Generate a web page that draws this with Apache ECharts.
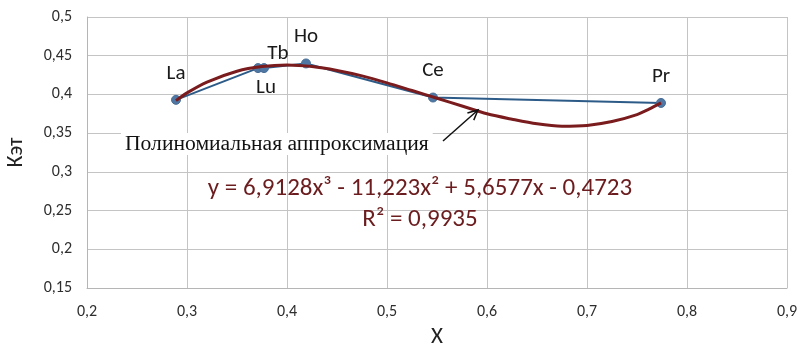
<!DOCTYPE html>
<html><head><meta charset="utf-8">
<script src="https://cdn.jsdelivr.net/npm/echarts@6/dist/echarts.min.js"></script>
<style>html,body{margin:0;padding:0;background:#fff}#c{width:798px;height:348px}</style>
</head><body><div id="c"></div>
<script>
// ---- data ----
const elements = ['La', 'Lu', 'Tb', 'Ho', 'Ce', 'Pr'];
const xValues  = [0.289, 0.371, 0.377, 0.419, 0.546, 0.774];
const kValues  = [0.393, 0.434, 0.434, 0.440, 0.396, 0.389];
// polynomial trend curve
const trendX = [0.289, 0.30, 0.32, 0.35, 0.375, 0.40, 0.425, 0.45, 0.475, 0.50, 0.525, 0.55, 0.575, 0.60, 0.625, 0.65, 0.675, 0.70, 0.725, 0.75, 0.762, 0.774];
const trendY = [0.392, 0.402, 0.416, 0.430, 0.436, 0.438, 0.436, 0.431, 0.424, 0.415, 0.405, 0.395, 0.385, 0.375, 0.368, 0.362, 0.359, 0.360, 0.365, 0.374, 0.381, 0.389];
const xAxisRange = { min: 0.2, max: 0.9, interval: 0.1 };
const yAxisRange = { min: 0.15, max: 0.5, interval: 0.05 };
const xName = 'X';
const yName = 'Кэт';
const annotationText = 'Полиномиальная аппроксимация';
const equationText = 'y = 6,9128x³ - 11,223x² + 5,6577x - 0,4723';
const r2Text = 'R² = 0,9935';

// ---- styles ----
const labelStyle = {
  Lu: { position: 'bottom', distance: 4, offset: [8, 0] },
  Tb: { position: 'top', distance: 0, offset: [14, 1] }
};
const calibri = "Carlito, 'Liberation Sans', sans-serif";
const comma = v => String(Math.round(v * 100) / 100).replace('.', ',');

const chart = echarts.init(document.getElementById('c'));
const pointData = elements.map((n, i) => {
  const s = labelStyle[n] || { position: 'top', distance: 11, offset: [0, 0] };
  return { name: n, value: [xValues[i], kValues[i]], label: { position: s.position, distance: s.distance, offset: s.offset } };
});
const trendData = trendX.map((x, i) => [x, trendY[i]]);

chart.setOption({
  animation: false,
  backgroundColor: '#fff',
  grid: { left: 87, right: 11, top: 17, bottom: 60, containLabel: false, outerBoundsMode: 'none' },
  xAxis: {
    type: 'value', min: xAxisRange.min, max: xAxisRange.max, interval: xAxisRange.interval,
    name: xName, nameLocation: 'middle', nameGap: 38,
    nameTextStyle: { fontFamily: calibri, fontSize: 23, color: '#222' },
    axisLine: { show: true, lineStyle: { color: '#b5b5b5', width: 1 } },
    axisTick: { show: false },
    axisLabel: { formatter: comma, fontFamily: calibri, fontSize: 16, color: '#2e2e2e', margin: 16 },
    splitLine: { show: true, lineStyle: { color: '#c4c4c4', width: 1 } }
  },
  yAxis: {
    type: 'value', min: yAxisRange.min, max: yAxisRange.max, interval: yAxisRange.interval,
    name: yName, nameLocation: 'middle', nameGap: 60, nameRotate: 90,
    nameTextStyle: { fontFamily: calibri, fontSize: 22, color: '#222' },
    axisLine: { show: true, lineStyle: { color: '#b5b5b5', width: 1 } },
    axisTick: { show: false },
    axisLabel: { formatter: comma, fontFamily: calibri, fontSize: 16, color: '#2e2e2e', margin: 15 },
    splitLine: { show: true, lineStyle: { color: '#c4c4c4', width: 1 } }
  },
  series: [
    {
      type: 'line', data: pointData, z: 2,
      symbol: 'circle', symbolSize: 9,
      lineStyle: { color: '#2d5b88', width: 2 },
      itemStyle: { color: '#4f77a3', borderColor: '#4a6f98', borderWidth: 1 },
      label: { show: true, formatter: p => p.name, fontFamily: calibri, fontSize: 21, color: '#1a1a1a' }
    },
    {
      type: 'line', data: trendData, z: 3, smooth: 0.3,
      symbol: 'none',
      lineStyle: { color: '#7a1b1d', width: 3 }
    }
  ]
});

// annotation, arrow and trend equation
const tip = [478, 110], tail = [443, 141];
const dx = tip[0] - tail[0], dy = tip[1] - tail[1];
const len = Math.hypot(dx, dy), ux = dx / len, uy = dy / len;
const head = a => {
  const c = Math.cos(a), s = Math.sin(a);
  const rx = -(ux * c - uy * s), ry = -(ux * s + uy * c);
  return [tip[0] + rx * 11, tip[1] + ry * 11];
};
chart.setOption({
  graphic: [
    { type: 'text', left: 121, top: 133, z: 5,
      style: { text: annotationText, font: "21.6px 'Liberation Serif','DejaVu Serif',serif", fill: '#111',
               backgroundColor: '#fff', padding: [0, 4] } },
    { type: 'polyline', z: 6, shape: { points: [tail, tip] }, style: { stroke: '#111', lineWidth: 1.5, fill: null } },
    { type: 'polyline', z: 6, shape: { points: [head(0.45), tip, head(-0.45)] }, style: { stroke: '#111', lineWidth: 1.5, fill: null } },
    { type: 'text', x: 420, y: 189, z: 5,
      style: { text: equationText, font: "25px Carlito, 'Liberation Sans', sans-serif", fill: '#6b1c1e',
               align: 'center', verticalAlign: 'middle' } },
    { type: 'text', x: 420, y: 220, z: 5,
      style: { text: r2Text, font: "25px Carlito, 'Liberation Sans', sans-serif", fill: '#6b1c1e',
               align: 'center', verticalAlign: 'middle' } }
  ]
});
</script></body></html>
